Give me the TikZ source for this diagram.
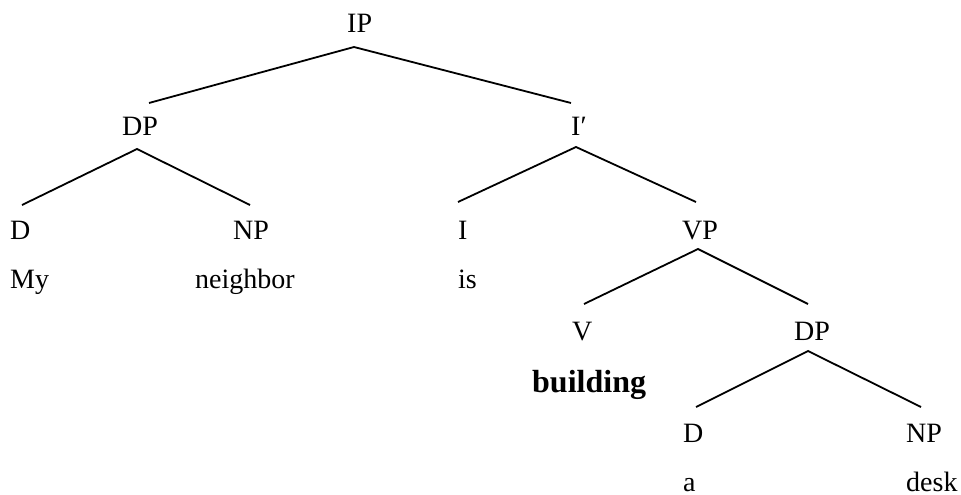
\documentclass[tikz,border=0pt]{standalone}
\usepackage{fontspec}
\setmainfont{Liberation Serif}
\begin{document}
\begin{tikzpicture}[x=1pt,y=-1pt,
  lbl/.style={inner sep=0pt,anchor=base west,font=\fontsize{28}{32}\selectfont},
  bold lbl/.style={lbl,font=\fontsize{32}{36}\selectfont\bfseries},
  branch/.style={line width=1.8pt,line join=miter}]
\useasboundingbox (0,0) rectangle (961,495);

% category labels and words
\node[lbl] (ip)   at (347,33)  {IP};
\node[lbl] (dp1)  at (122,135) {DP};
\node[lbl] (ibar) at (571,135) {I′};
\node[lbl] (d1)   at (10,239)  {D};
\node[lbl] (np1)  at (233,239) {NP};
\node[lbl] (i)    at (458,239) {I};
\node[lbl] (vp)   at (682,239) {VP};
\node[lbl] (my)   at (10,288)  {My};
\node[lbl] (nbr)  at (195,288) {neighbor};
\node[lbl] (is)   at (458,288) {is};
\node[lbl] (v)    at (572,340) {V};
\node[lbl] (dp2)  at (794,340) {DP};
\node[bold lbl] (bld) at (532,392) {building};
\node[lbl] (d2)   at (683,442) {D};
\node[lbl] (np2)  at (906,442) {NP};
\node[lbl] (a)    at (683,491) {a};
\node[lbl] (desk) at (906,491) {desk};

% branch ends
\coordinate (ip-b)   at (354,47);
\coordinate (dp1-t)  at (149,103);
\coordinate (ibar-t) at (571,103);
\coordinate (dp1-b)  at (137,149);
\coordinate (d1-t)   at (22,205);
\coordinate (np1-t)  at (250,205);
\coordinate (ibar-b) at (576,147);
\coordinate (i-t)    at (458,202);
\coordinate (vp-t)   at (696,202);
\coordinate (vp-b)   at (698,249);
\coordinate (v-t)    at (584,304);
\coordinate (dp2-t)  at (808,304);
\coordinate (dp2-b)  at (808,351);
\coordinate (d2-t)   at (696,407);
\coordinate (np2-t)  at (921,407);

% branches
\draw[branch] (dp1-t) -- (ip-b) -- (ibar-t);
\draw[branch] (d1-t) -- (dp1-b) -- (np1-t);
\draw[branch] (i-t) -- (ibar-b) -- (vp-t);
\draw[branch] (v-t) -- (vp-b) -- (dp2-t);
\draw[branch] (d2-t) -- (dp2-b) -- (np2-t);
\end{tikzpicture}
\end{document}
